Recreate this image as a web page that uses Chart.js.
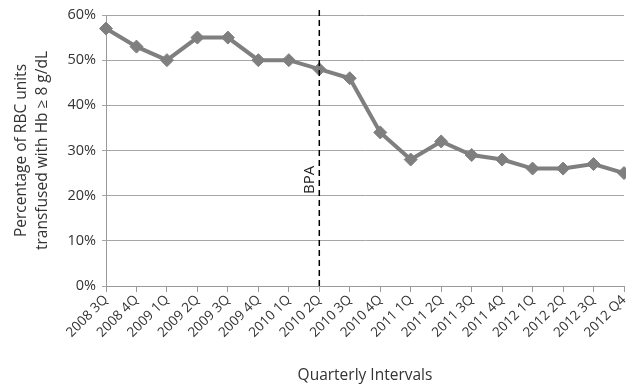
<!DOCTYPE html>
<html>
<head>
<meta charset="utf-8">
<script src="https://cdn.jsdelivr.net/npm/chart.js@4"></script>
<style>
  html, body { margin: 0; padding: 0; background: #fff; }
  #wrap { width: 626px; height: 385px; }
</style>
</head>
<body>
<div id="wrap"><canvas id="bpaChart" width="626" height="385"></canvas></div>
<script>
const quarters = ['2008 3Q', '2008 4Q', '2009 1Q', '2009 2Q', '2009 3Q', '2009 4Q',
  '2010 1Q', '2010 2Q', '2010 3Q', '2010 4Q', '2011 1Q', '2011 2Q', '2011 3Q',
  '2011 4Q', '2012 1Q', '2012 2Q', '2012 3Q', '2012 Q4'];
const pctHbAbove8 = [57, 53, 50, 55, 55, 50, 50, 48, 46, 34, 28, 32, 29, 28, 26, 26, 27, 25];
const yTicks = [0, 10, 20, 30, 40, 50, 60];
const bpaQuarter = '2010 2Q';
const bpaLabel = 'BPA';

const fontFam = '"Open Sans", "DejaVu Sans", sans-serif';

// dashed vertical line marking the BPA start
const bpaLine = {
  id: 'bpaLine',
  afterDatasetsDraw(chart) {
    const { ctx, chartArea, scales } = chart;
    const x = scales.x.getPixelForValue(quarters.indexOf(bpaQuarter));
    ctx.save();
    ctx.strokeStyle = '#000';
    ctx.lineWidth = 1.5;
    ctx.setLineDash([6, 4]);
    ctx.beginPath();
    ctx.moveTo(x, chartArea.top - 5);
    ctx.lineTo(x, chartArea.bottom);
    ctx.stroke();
    ctx.setLineDash([]);
    ctx.translate(x - 10, scales.y.getPixelForValue(23.5));
    ctx.rotate(-Math.PI / 2);
    ctx.fillStyle = '#222';
    ctx.font = '15px ' + fontFam;
    ctx.textAlign = 'center';
    ctx.textBaseline = 'middle';
    ctx.fillText(bpaLabel, 0, 0);
    ctx.restore();
  }
};

new Chart(document.getElementById('bpaChart'), {
  type: 'line',
  data: {
    labels: quarters,
    datasets: [{
      data: pctHbAbove8,
      borderColor: '#7f7f7f',
      backgroundColor: '#7f7f7f',
      borderWidth: 4,
      pointStyle: 'rectRot',
      pointRadius: 6.5,
      pointBorderWidth: 1,
      tension: 0,
      clip: false
    }]
  },
  options: {
    responsive: false,
    animation: false,
    layout: { autoPadding: false, padding: { top: 15, right: 2, left: 12, bottom: 0 } },
    plugins: { legend: { display: false }, tooltip: { enabled: false } },
    scales: {
      x: {
        offset: false,
        grid: { drawOnChartArea: false, color: '#9a9a9a', tickLength: 6 },
        border: { color: '#9a9a9a' },
        ticks: {
          maxRotation: 45, minRotation: 45, autoSkip: false,
          color: '#333', font: { family: fontFam, size: 13.5 }, padding: 0
        },
        title: {
          display: true, text: 'Quarterly Intervals', color: '#333',
          font: { family: fontFam, size: 15.5 }, padding: { top: 7, bottom: 0 }
        },
        afterFit(scale) {
          scale.height = 99;
          scale.paddingLeft = 0;
          scale.paddingRight = 0;
        }
      },
      y: {
        min: 0, max: 60,
        afterBuildTicks(scale) { scale.ticks = yTicks.map(v => ({ value: v })); },
        grid: { color: '#a6a6a6', tickLength: 4 },
        border: { color: '#9a9a9a' },
        ticks: {
          callback: v => v + '%', color: '#333',
          font: { family: fontFam, size: 14.5 }, padding: 6
        },
        title: {
          display: true, text: ['Percentage of RBC units', 'transfused with Hb \u2265 8 g/dL'],
          color: '#333', font: { family: fontFam, size: 15.5, lineHeight: 1.3 }, padding: 0
        },
        afterFit(scale) { scale.width = 94; }
      }
    }
  },
  plugins: [bpaLine]
});
</script>
</body>
</html>
